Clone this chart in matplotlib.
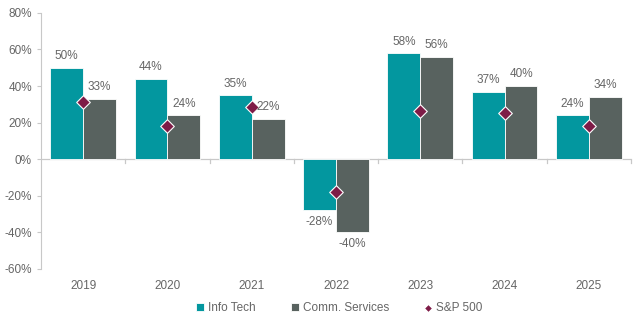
import numpy as np
import matplotlib.pyplot as plt

years = ['2019', '2020', '2021', '2022', '2023', '2024', '2025']
info_tech = [50, 44, 35, -28, 58, 37, 24]
comm_services = [33, 24, 22, -40, 56, 40, 34]
sp500 = [31.5, 18.4, 28.7, -18.1, 26.3, 25.0, 17.9]

teal = '#03979F'
slate = '#58625F'
maroon = '#7E1C47'
txt = '#666666'
axis_col = '#C8C8C8'

plt.rcParams.update({
    'font.family': ['Liberation Sans', 'DejaVu Sans'],
    'font.size': 8.5,
})

fig = plt.figure(figsize=(6.4, 3.21), dpi=100)
ax = fig.add_axes([0.064, 0.162, 0.922, 0.798])

x = np.arange(len(years))
w = 0.39
b1 = ax.bar(x - w / 2, info_tech, w, color=teal, edgecolor='white', linewidth=0.6,
            label='Info Tech', zorder=2)
b2 = ax.bar(x + w / 2, comm_services, w, color=slate, edgecolor='white', linewidth=0.6,
            label='Comm. Services', zorder=2)
sc = ax.scatter(x, sp500, marker='D', s=48, color=maroon, edgecolor='white', linewidth=0.8,
                label='S&P 500', zorder=3)

for bars, vals in ((b1, info_tech), (b2, comm_services)):
    for rect, v in zip(bars, vals):
        cx = rect.get_x() + rect.get_width() / 2
        if v >= 0:
            ax.annotate(f'{v}%', (cx, v), xytext=(0, 4), textcoords='offset points',
                        ha='center', va='bottom', color=txt, fontsize=8.5)
        else:
            ax.annotate(f'{v}%', (cx, v), xytext=(0, -4), textcoords='offset points',
                        ha='center', va='top', color=txt, fontsize=8.5)

ax.set_xlim(-0.5, len(years) - 0.5)
ax.set_ylim(-60, 80)
ax.set_yticks(range(-60, 81, 20))
ax.set_yticklabels([f'{t}%' for t in range(-60, 81, 20)])
ax.set_xticks(x)
ax.set_xticklabels(years)

for s in ('top', 'right', 'bottom'):
    ax.spines[s].set_visible(False)
ax.spines['left'].set_color(axis_col)
ax.axhline(0, color=axis_col, linewidth=0.9, zorder=1)
for xb in np.arange(0.5, len(years), 1.0):
    ax.plot([xb, xb], [0, -1.8], color=axis_col, linewidth=0.9, zorder=1, clip_on=False)

ax.tick_params(axis='y', colors=axis_col, labelcolor=txt, length=3, labelsize=8.5)
ax.tick_params(axis='x', length=0, labelcolor=txt, labelsize=8.5, pad=8)

fig.legend(handles=[b1, b2, sc], loc='center', bbox_to_anchor=(0.53, 0.04), ncol=3,
           frameon=False, fontsize=8.5, handlelength=0.7, handleheight=0.7,
           handletextpad=0.3, columnspacing=3.0, markerscale=0.6, labelcolor=txt)

fig.savefig('out.png', dpi=100)
